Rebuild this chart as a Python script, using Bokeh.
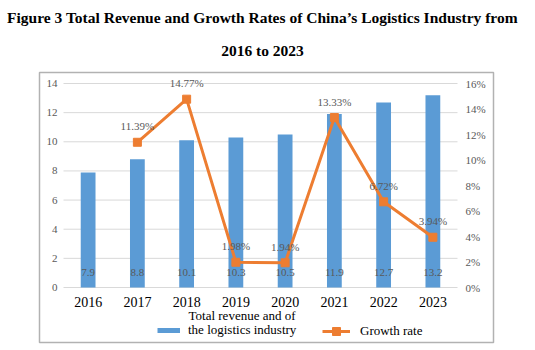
import numpy as np
from bokeh.plotting import figure
from bokeh.models import (ColumnDataSource, Range1d, LabelSet, Label, Legend, LegendItem, BoxAnnotation)
from bokeh.embed import file_html
from bokeh.resources import INLINE

years = ["2016", "2017", "2018", "2019", "2020", "2021", "2022", "2023"]
revenue = [7.9, 8.8, 10.1, 10.3, 10.5, 11.9, 12.7, 13.2]
growth_years = ["2017", "2018", "2019", "2020", "2021", "2022", "2023"]
growth = [11.39, 14.77, 1.98, 1.94, 13.33, 6.72, 3.94]
left_ticks = [0, 2, 4, 6, 8, 10, 12, 14]
right_ticks = [0, 2, 4, 6, 8, 10, 12, 14, 16]
title_lines = ["Figure 3 Total Revenue and Growth Rates of China\u2019s Logistics Industry from",
               "2016 to 2023"]
legend_bar_lines = ["Total revenue and of", "the logistics industry"]
legend_line_label = "Growth rate"

BLUE = "#5B9BD5"
ORANGE = "#ED7D31"
GRAY = "#595959"
GRID = "#D9D9D9"

W, H = 535, 350
# layout: plotting region spans x 63..457, gridline 0 at y=287, gridline 14 (16%) at y=83
CAT_PX = (457 - 63) / len(years)
X0_PX = 63 + CAT_PX / 2
X_START = -X0_PX / CAT_PX
X_END = X_START + W / CAT_PX
Y_PPU = (287 - 83) / left_ticks[-1]
P_PPU = (287 - 83) / right_ticks[-1]

xi = list(range(len(years)))
bar_src = ColumnDataSource(dict(x=xi, top=revenue, zero=[0] * len(years),
                                lab=[f"{v}" for v in revenue], year=years))
line_src = ColumnDataSource(dict(x=[years.index(y) for y in growth_years], y=growth,
                                 lab=[f"{v:.2f}%" for v in growth]))
lt_src = ColumnDataSource(dict(y=left_ticks, x=[-0.5] * len(left_ticks), x1=[len(years) - 0.5] * len(left_ticks),
                               lab=[str(t) for t in left_ticks]))
rt_src = ColumnDataSource(dict(y=right_ticks, x=[len(years) - 0.5] * len(right_ticks),
                               lab=[f"{t}%" for t in right_ticks]))

p = figure(width=W, height=H, output_backend="svg", toolbar_location=None,
           x_range=Range1d(X_START, X_END),
           y_range=Range1d(-(H - 287) / Y_PPU, 287 / Y_PPU),
           x_axis_location=None, y_axis_location=None,
           min_border=0, min_border_left=0, min_border_right=0, min_border_top=0, min_border_bottom=0)
p.title = None
p.outline_line_color = None
p.background_fill_color = "white"
p.border_fill_color = "white"
p.xgrid.visible = False
p.ygrid.visible = False
p.extra_y_ranges = {"pct": Range1d(-(H - 287) / P_PPU, 287 / P_PPU)}

# gridlines (left-axis ticks)
p.segment(x0="x", x1="x1", y0="y", y1="y", source=lt_src, line_color=GRID, line_width=1)

# bars
p.vbar(x="x", top="top", width=0.3, source=bar_src, fill_color=BLUE, line_color=None)
# growth line
lr = p.line(x="x", y="y", source=line_src, y_range_name="pct", line_color=ORANGE, line_width=3)
sr = p.scatter(x="x", y="y", source=line_src, y_range_name="pct", marker="square", size=8,
               fill_color=ORANGE, line_color=ORANGE)
# legend-only swatch for the bars (draws nothing on the plot)
dummy = p.line(x=[0, 1], y=np.array([np.nan, np.nan]), line_color=BLUE, line_width=5)

# axis tick labels
p.add_layout(LabelSet(x="x", y="y", text="lab", source=lt_src, x_offset=-6,
                      text_align="right", text_baseline="middle",
                      text_font="Noto Sans CJK SC", text_font_size="11px", text_color=GRAY))
p.add_layout(LabelSet(x="x", y="y", text="lab", source=rt_src, y_range_name="pct", x_offset=8,
                      text_align="left", text_baseline="middle",
                      text_font="Noto Sans CJK SC", text_font_size="11px", text_color=GRAY))
p.add_layout(LabelSet(x="x", y="zero", text="year", source=bar_src, y_offset=-14,
                      text_align="center", text_baseline="middle",
                      text_font="Liberation Serif", text_font_size="14px", text_color="black"))

# data labels
p.add_layout(LabelSet(x="x", y="zero", text="lab", source=bar_src, y_offset=15,
                      text_align="center", text_baseline="middle",
                      text_font="Noto Sans CJK SC", text_font_size="11px", text_color=GRAY))
p.add_layout(LabelSet(x="x", y="y", text="lab", source=line_src, y_range_name="pct", y_offset=16,
                      text_align="center", text_baseline="middle",
                      text_font="Noto Sans CJK SC", text_font_size="11px", text_color=GRAY))

# titles
for txt, ty in zip(title_lines, [H - 17, H - 50]):
    p.add_layout(Label(x=262, y=ty, x_units="screen", y_units="screen", text=txt,
                       text_align="center", text_baseline="middle",
                       text_font="Liberation Serif", text_font_size="15.5px",
                       text_font_style="bold", text_color="black"))

# legends
leg_common = dict(orientation="horizontal", padding=0, margin=0,
                  label_text_font="Liberation Serif", label_text_font_size="13px",
                  label_text_color="black", border_line_color=None, background_fill_alpha=0,
                  glyph_height=20)
p.add_layout(Legend(items=[LegendItem(label=legend_bar_lines[1], renderers=[dummy])],
                    location=(157, 10), glyph_width=23, label_standoff=8, **leg_common), "center")
p.add_layout(Label(x=188, y=H - 315, x_units="screen", y_units="screen", text=legend_bar_lines[0],
                   text_align="left", text_baseline="middle",
                   text_font="Liberation Serif", text_font_size="13px", text_color="black"))
p.add_layout(Legend(items=[LegendItem(label=legend_line_label, renderers=[lr, sr])],
                    location=(322, 9), glyph_width=28, label_standoff=10, **leg_common), "center")

# chart border
p.add_layout(BoxAnnotation(left=39, right=493, top=72, bottom=342,
                           left_units="canvas", right_units="canvas",
                           top_units="canvas", bottom_units="canvas",
                           fill_alpha=0, line_color="black", line_width=1.5))

open("out.html", "w").write(file_html(p, INLINE))
